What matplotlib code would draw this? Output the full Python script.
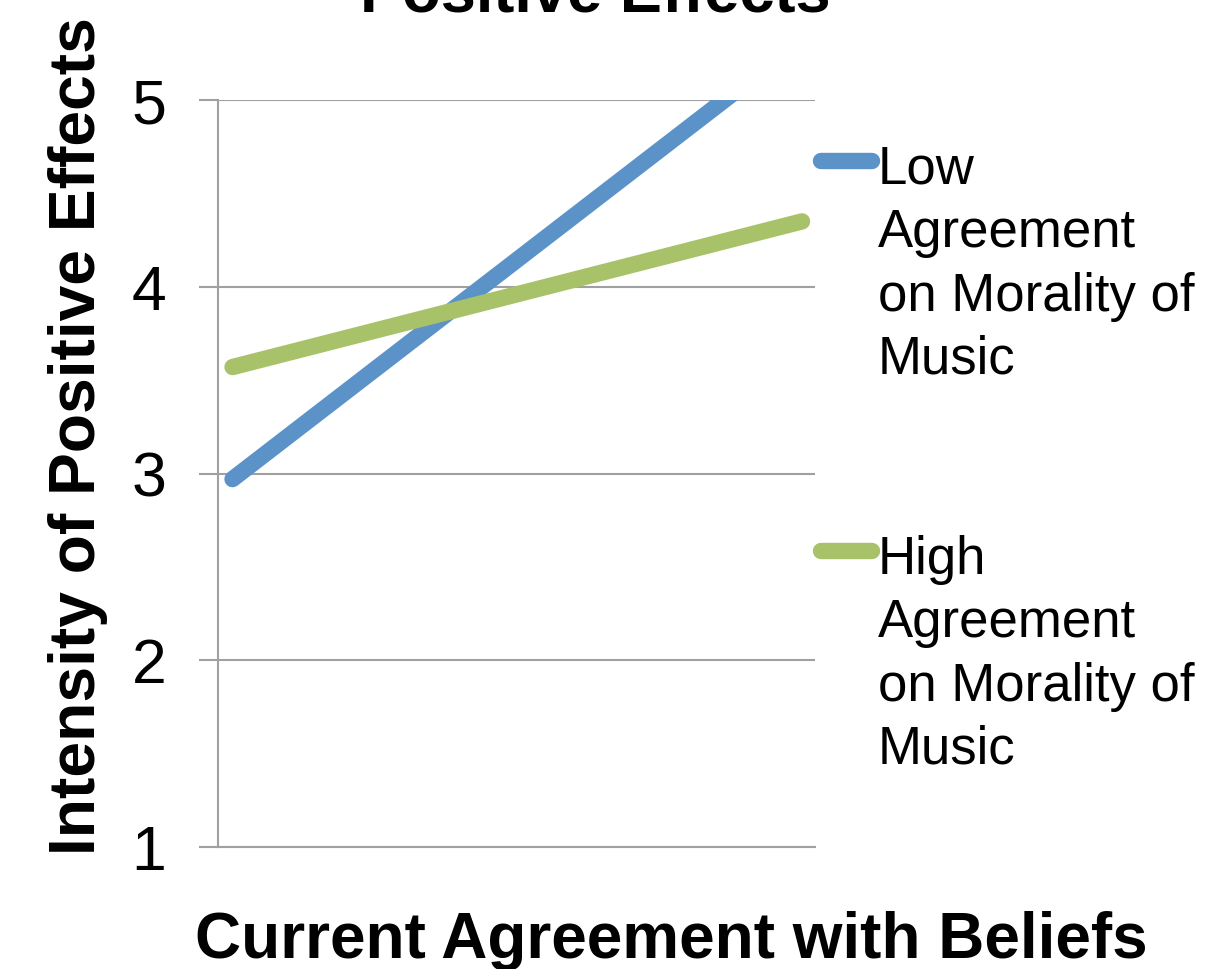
import matplotlib
matplotlib.use("Agg")
import matplotlib.pyplot as plt
from matplotlib.lines import Line2D

plt.rcParams["font.family"] = ["Liberation Sans", "DejaVu Sans"]

# Data: two levels of current agreement, one line per moral-agreement group
agreement_levels = [0, 1]
series_names = [
    "Low\nAgreement\non Morality of\nMusic",
    "High\nAgreement\non Morality of\nMusic",
]
low_group = [2.97, 5.32]
high_group = [3.57, 4.35]
y_ticks = [1, 2, 3, 4, 5]

colors = ["#5B93C9", "#A7C268"]
grid_gray = "#A0A0A0"

W, H = 1209, 969
fig = plt.figure(figsize=(W / 100, H / 100), dpi=100)


def fx(px):
    return px / W


def fy(py):
    return 1 - py / H


# plot area in pixel units
left, right, top, bottom = 218, 815, 100, 847
ax = fig.add_axes([fx(left), fy(bottom), (right - left) / W, (bottom - top) / H])

for vals, c in zip([low_group, high_group], colors):
    ax.plot(agreement_levels, vals, color=c, lw=11.8,
            solid_capstyle="round", zorder=3)

ax.set_ylim(1, 5)
ax.set_xlim(-0.0255, 1.0228)
ax.set_yticks(y_ticks)
ax.set_xticks([])
ax.yaxis.grid(True, color=grid_gray, lw=1.5)
ax.set_axisbelow(True)
for s in ["top", "right"]:
    ax.spines[s].set_visible(False)
for s in ["left", "bottom"]:
    ax.spines[s].set_color(grid_gray)
    ax.spines[s].set_linewidth(1.5)
ax.tick_params(axis="y", length=13.7, width=1.5, color=grid_gray,
               pad=23.5, labelsize=45, labelcolor="black")

# titles and axis labels
fig.text(fx(595), fy(11), "Positive Effects", fontsize=45.5,
         fontweight="bold", ha="center", va="baseline")
fig.text(fx(671), fy(958), "Current Agreement with Beliefs", fontsize=46,
         fontweight="bold", ha="center", va="baseline")
fig.text(fx(95), fy(436), "Intensity of Positive Effects", fontsize=46.2,
         fontweight="bold", rotation=90, rotation_mode="anchor",
         ha="center", va="baseline")

# legend entries: line sample aligned with the first text line
legend_rows = [(160.7, 145), (551, 535)]
for (ly, ty), name, c in zip(legend_rows, series_names, colors):
    fig.add_artist(Line2D([fx(821), fx(872)], [fy(ly), fy(ly)], color=c,
                          lw=11.8, solid_capstyle="round",
                          transform=fig.transFigure))
    fig.text(fx(878), fy(ty), name, fontsize=38, ha="left", va="top",
             linespacing=1.34)

fig.savefig("out.png", dpi=100, facecolor="white")
